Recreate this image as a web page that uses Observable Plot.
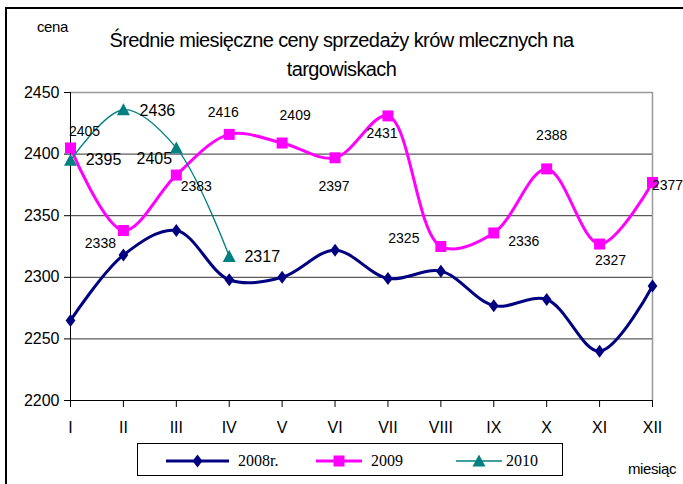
<!DOCTYPE html>
<html>
<head>
<meta charset="utf-8">
<script src="https://cdn.jsdelivr.net/npm/d3@7"></script>
<script src="https://cdn.jsdelivr.net/npm/@observablehq/plot@0.6"></script>
<style>
  html, body { margin: 0; padding: 0; background: #fff; }
  #wrap { position: relative; width: 683px; height: 484px; overflow: hidden; font-family: "Liberation Sans", Arial, sans-serif; }
  #wrap svg.plot { position: absolute; left: 0; top: 0; }
  .border-top { position: absolute; left: 5px; top: 7px; width: 680px; height: 0; border-top: 2px solid #000; }
  .border-left { position: absolute; left: 5px; top: 7px; width: 0; height: 480px; border-left: 2px solid #000; }
  .title { position: absolute; left: 0; width: 683px; text-align: center; font-size: 20px; letter-spacing: -0.6px; color: #000; white-space: nowrap; }
  .cena { position: absolute; left: 37px; top: 18px; font-size: 15px; letter-spacing: -0.4px; }
  .miesiac { position: absolute; left: 628px; top: 460px; font-size: 15px; letter-spacing: -0.4px; white-space: nowrap; }
  .legend { position: absolute; left: 137px; top: 443px; width: 426px; height: 33px; border: 1px solid #000; box-sizing: border-box; }
  .legend svg { position: absolute; left: 0; top: 0; }
</style>
</head>
<body>
<div id="wrap"></div>
<script>
// ---- data ----
const months = ["I","II","III","IV","V","VI","VII","VIII","IX","X","XI","XII"];
const v2008 = [2265, 2318, 2338, 2298, 2300, 2322, 2299, 2305, 2277, 2282, 2240, 2293];
const v2009 = [2405, 2338, 2383, 2416, 2409, 2397, 2431, 2325, 2336, 2388, 2327, 2377];
const v2010 = [2395, 2436, 2405, 2317];
const yTicks = [2200, 2250, 2300, 2350, 2400, 2450];
const seriesNames = ["2008r.", "2009", "2010"];
const titleLines = ["Średnie miesięczne ceny sprzedaży krów mlecznych na", "targowiskach"];

// label offsets (layout only)
const off2009 = [[14,-16],[-23,13],[20,11],[-6,-22],[13,-27],[-1,29],[-6,18],[-37,-8],[30,9],[5,-33],[11,16],[15,3]];
const off2010 = [[33,0],[34,1],[-22,11],[33,1]];

const colors = {"2008r.": "#000080", "2009": "#FF00FF", "2010": "#008080"};

const rows2008 = months.map((m,i) => ({month: m, value: v2008[i]}));
const rows2009 = months.map((m,i) => ({month: m, value: v2009[i]}));
const rows2010 = v2010.map((v,i) => ({month: months[i], value: v}));

// custom symbols
const diamond = {draw(ctx, size) { const r = Math.sqrt(size / Math.PI); ctx.moveTo(0, -r); ctx.lineTo(r*0.75, 0); ctx.lineTo(0, r); ctx.lineTo(-r*0.75, 0); ctx.closePath(); }};
const square = {draw(ctx, size) { const r = Math.sqrt(size / Math.PI); ctx.rect(-r, -r, 2*r, 2*r); }};
const triangle = {draw(ctx, size) { const r = Math.sqrt(size / Math.PI); ctx.moveTo(0, -r); ctx.lineTo(r, r*0.85); ctx.lineTo(-r, r*0.85); ctx.closePath(); }};

const labelMarks = [
  ...rows2009.map((d,i) => Plot.text([d], {x: "month", y: "value", text: d => String(d.value), dx: off2009[i][0], dy: off2009[i][1], fontSize: 14, fill: "#000", style: "letter-spacing:-0.9px"})),
  ...rows2010.map((d,i) => Plot.text([d], {x: "month", y: "value", text: d => String(d.value), dx: off2010[i][0], dy: off2010[i][1], fontSize: 16, fill: "#000", style: "letter-spacing:-0.5px"}))
];

const chart = Plot.plot({
  width: 683,
  height: 484,
  marginLeft: 70,
  marginRight: 31,
  marginTop: 92,
  marginBottom: 84,
  style: {fontFamily: "'Liberation Sans', Arial, sans-serif", fontSize: "16px", background: "transparent", color: "#000"},
  x: {type: "point", domain: months, padding: 0, round: false},
  y: {domain: [2200, 2450]},
  marks: [
    Plot.ruleY(yTicks.filter(t => t > 2200 && t < 2450), {stroke: "#333", strokeWidth: 1}),
    Plot.ruleY([2450], {stroke: "#999", strokeWidth: 1.5}),
    Plot.ruleX([months[months.length-1]], {y1: 2200, y2: 2450, stroke: "#999", strokeWidth: 1.5}),
    Plot.ruleY([2200], {stroke: "#000", strokeWidth: 1}),
    Plot.ruleX([months[0]], {y1: 2200, y2: 2450, stroke: "#000", strokeWidth: 1}),
    Plot.axisY({ticks: yTicks, tickSize: 6, tickPadding: 5, label: null, fontSize: 16, tickFormat: d => String(d)}),
    Plot.axisX({tickSize: 7, tickPadding: 14, label: null, fontSize: 16}),
    Plot.line(rows2008, {x: "month", y: "value", stroke: colors["2008r."], strokeWidth: 3, curve: "catmull-rom"}),
    Plot.line(rows2009, {x: "month", y: "value", stroke: colors["2009"], strokeWidth: 3, curve: "catmull-rom"}),
    Plot.line(rows2010, {x: "month", y: "value", stroke: colors["2010"], strokeWidth: 1.3, curve: "catmull-rom"}),
    Plot.dot(rows2008, {x: "month", y: "value", symbol: diamond, r: 6.5, fill: colors["2008r."], stroke: "none"}),
    Plot.dot(rows2009, {x: "month", y: "value", symbol: square, r: 5.5, fill: colors["2009"], stroke: "none"}),
    Plot.dot(rows2010, {x: "month", y: "value", symbol: triangle, r: 6.5, fill: colors["2010"], stroke: "none"}),
    ...labelMarks
  ]
});
chart.classList.add("plot");

const wrap = document.getElementById("wrap");
wrap.appendChild(chart);

const addDiv = (cls, html, styleStr) => { const d = document.createElement("div"); d.className = cls; if (html) d.textContent = html; if (styleStr) d.setAttribute("style", styleStr); wrap.appendChild(d); return d; };
addDiv("border-top");
addDiv("border-left");
addDiv("title", titleLines[0], "top:29px;");
addDiv("title", titleLines[1], "top:58px;");
addDiv("cena", "cena");
addDiv("miesiac", "miesiąc");

// legend
const leg = addDiv("legend");
const ns = "http://www.w3.org/2000/svg";
const lsvg = document.createElementNS(ns, "svg");
lsvg.setAttribute("width", 426); lsvg.setAttribute("height", 33);
const legItems = [
  {name: seriesNames[0], x0: 28, x1: 91, sw: 3, sym: "diamond", tx: 100},
  {name: seriesNames[1], x0: 178, x1: 224, sw: 3, sym: "square", tx: 233},
  {name: seriesNames[2], x0: 318, x1: 364, sw: 1.3, sym: "triangle", tx: 368}
];
legItems.forEach(it => {
  const c = colors[it.name];
  const ln = document.createElementNS(ns, "line");
  ln.setAttribute("x1", it.x0); ln.setAttribute("x2", it.x1); ln.setAttribute("y1", 17); ln.setAttribute("y2", 17);
  ln.setAttribute("stroke", c); ln.setAttribute("stroke-width", it.sw);
  lsvg.appendChild(ln);
  const cx = (it.x0 + it.x1) / 2, cy = 17;
  const p = document.createElementNS(ns, "path");
  let dstr;
  if (it.sym === "diamond") dstr = `M${cx},${cy-6.5}L${cx+5},${cy}L${cx},${cy+6.5}L${cx-5},${cy}Z`;
  else if (it.sym === "square") dstr = `M${cx-5.5},${cy-5.5}h11v11h-11Z`;
  else dstr = `M${cx},${cy-6.5}L${cx+6.5},${cy+5.5}L${cx-6.5},${cy+5.5}Z`;
  p.setAttribute("d", dstr); p.setAttribute("fill", c);
  lsvg.appendChild(p);
  const t = document.createElementNS(ns, "text");
  t.setAttribute("x", it.tx); t.setAttribute("y", 22);
  t.setAttribute("font-family", "'Liberation Serif', 'Times New Roman', serif");
  t.setAttribute("font-size", 16);
  t.textContent = it.name;
  lsvg.appendChild(t);
});
leg.appendChild(lsvg);
</script>
</body>
</html>
